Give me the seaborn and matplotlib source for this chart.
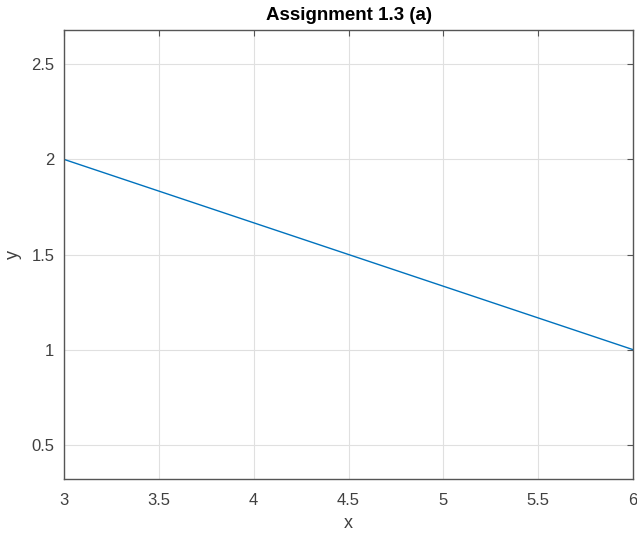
import numpy as np
import pandas as pd
import matplotlib
matplotlib.use("Agg")
import matplotlib.pyplot as plt
import seaborn as sns

# data
x_vals = [3, 6]
y_vals = [2, 1]
x_ticks = [3, 3.5, 4, 4.5, 5, 5.5, 6]
y_ticks = [0.5, 1, 1.5, 2, 2.5]
y_tick_labels = ["0.5", "1", "1.5", "2", "2.5"]
x_tick_labels = ["3", "3.5", "4", "4.5", "5", "5.5", "6"]

df = pd.DataFrame({"x": x_vals, "y": y_vals})

sns.set_style("white")
plt.rcParams["font.family"] = ["Liberation Sans", "DejaVu Sans"]

fig = plt.figure(figsize=(6.37, 5.33), dpi=100)
ax = fig.add_axes([0.1005, 0.1013, 0.8932, 0.8424])

sns.lineplot(data=df, x="x", y="y", ax=ax, color="#0072BD", linewidth=1.0)

ax.set_xlim(3, 6)
ax.set_ylim(0.32, 2.68)
ax.set_xticks(x_ticks)
ax.set_xticklabels(x_tick_labels)
ax.set_yticks(y_ticks)
ax.set_yticklabels(y_tick_labels)
ax.grid(True, color="#e0e0e0", linewidth=0.8)
ax.set_axisbelow(True)
for s in ax.spines.values():
    s.set_color("#555555")
    s.set_linewidth(1.0)
    s.set_visible(True)
ax.tick_params(direction="in", length=4, width=0.8, colors="#555555",
               labelsize=12, labelcolor="#404040", top=True, right=True,
               labeltop=False, labelright=False)
ax.tick_params(axis="x", pad=10)
ax.tick_params(axis="y", pad=7)
ax.set_xlabel("x", fontsize=13, color="#404040", labelpad=5)
ax.set_ylabel("y", fontsize=13, color="#404040", labelpad=7)
ax.set_title("Assignment 1.3 (a)", fontsize=13.5, fontweight="bold", color="black", pad=7)

fig.savefig("out.png", dpi=100)
